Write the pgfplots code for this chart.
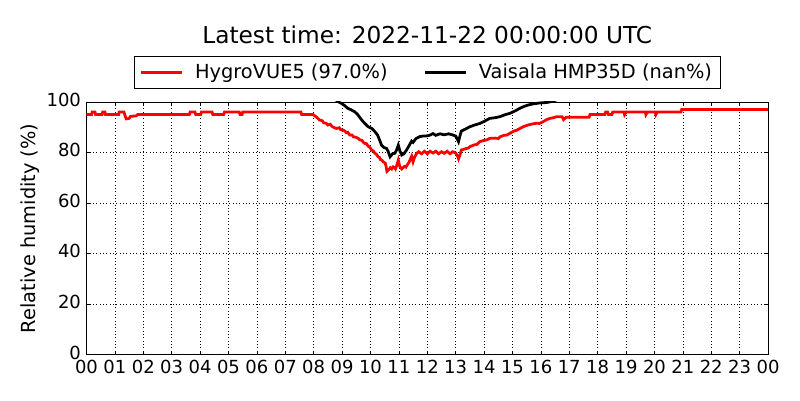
\documentclass[border=0pt]{standalone}
\usepackage{fontspec}
\setmainfont{DejaVu Sans}
\usepackage{pgfplots}
\pgfplotsset{compat=1.18}

\pgfplotstableread{
t v
0 95
0.18 95
0.2 96
0.3 96
0.32 95
0.55 95
0.57 96
0.65 96
0.67 95
1.13 95
1.15 96
1.32 96
1.36 94.5
1.4 93.3
1.5 93.5
1.55 94.3
1.75 94.5
1.8 95
3.62 95
3.65 96
3.82 96
3.85 95
4.02 95
4.05 96
4.42 96
4.45 95
4.83 95
4.86 96
5.38 96
5.41 95
5.48 95
5.5 96
7.55 96
7.58 95
7.98 95
8.1 94
8.15 93.5
8.2 92.9
8.3 92.6
8.35 91.8
8.45 91.5
8.5 90.9
8.58 91.2
8.65 90.3
8.75 89.7
8.8 89.5
8.9 89.8
8.95 89
9.03 88.9
9.1 88.5
9.15 87.8
9.2 88
9.27 86.9
9.35 86.9
9.4 86.2
9.5 86
9.57 85.6
9.62 85
9.7 84.8
9.75 84
9.8 83.6
9.86 83.5
9.92 82.5
9.98 82
10.04 81
10.1 80.6
10.15 79.8
10.22 79.2
10.27 78.3
10.32 78
10.35 77.2
10.4 77
10.45 76.3
10.52 75.8
10.55 74.5
10.58 72.5
10.63 73
10.7 74
10.75 73.5
10.8 74.3
10.85 74
10.88 73.5
10.93 75
10.98 77
11.03 74.5
11.1 73.5
11.15 74
11.2 74.5
11.25 74.2
11.29 75
11.35 76
11.39 77
11.45 78.5
11.5 76.3
11.55 78
11.62 79.6
11.7 80.3
11.8 79.5
11.9 80.5
12.0 79.5
12.1 80.5
12.2 79.8
12.3 80.5
12.4 79.5
12.5 80.3
12.6 79.7
12.7 80.5
12.8 79.5
12.9 80.3
13.0 79.8
13.07 78.5
13.1 77.5
13.15 79
13.2 81
13.35 81.5
13.45 81.8
13.5 82.3
13.65 83
13.75 83.2
13.85 84.3
14.0 84.8
14.1 85
14.2 85.6
14.4 85.7
14.5 85.5
14.56 86.2
14.7 86.8
14.8 86.9
14.91 87.6
15.05 88.5
15.15 88.8
15.26 89.5
15.4 90.3
15.55 90.9
15.7 91.3
15.85 91.6
15.95 91.5
16.08 92.2
16.2 93
16.32 93.5
16.45 93.8
16.55 94.2
16.75 94.2
16.8 93
16.85 93.5
16.9 94
17.7 94
17.73 95
18.25 95
18.28 96
18.35 96
18.38 95
18.5 95
18.53 96
18.93 96
18.95 95
19.0 96
19.68 96
19.7 95
19.75 96
20.03 96
20.05 95
20.1 96
20.93 96
20.96 97
24 97
}\redtab

\pgfplotstableread{
t v
8.7 101.5
8.88 100
9.0 99.3
9.1 98.5
9.2 97.5
9.3 97
9.45 96.1
9.55 95
9.69 92.9
9.8 91.5
9.92 90.2
10.05 89.5
10.16 88.2
10.25 86.9
10.32 85
10.39 82.9
10.47 82
10.57 81.6
10.62 80.5
10.69 78.3
10.78 79.5
10.86 79.7
10.92 81
10.98 82.9
11.04 80.5
11.1 79
11.18 79.5
11.27 81
11.35 82.5
11.45 84.5
11.5 84
11.6 85.5
11.74 86.3
11.85 86.5
12.0 86.6
12.1 86.9
12.2 87.5
12.3 86.8
12.45 87.4
12.6 87
12.75 87.4
12.91 86.9
13.0 86.5
13.05 85.5
13.1 84.3
13.15 86.5
13.2 88.5
13.35 89.3
13.5 90.2
13.65 90.8
13.85 91.5
14.0 92.3
14.2 93.5
14.4 93.8
14.56 94.2
14.75 95
14.91 95.5
15.1 96.5
15.26 97.5
15.4 98.2
15.55 98.8
15.75 99.3
15.95 99.6
16.2 99.8
16.4 100.2
16.7 101.5
}\blacktab

\begin{document}
\begin{tikzpicture}
\useasboundingbox (-62.5pt,-32.9pt) rectangle (515.6pt,256.2pt);
\begin{axis}[
  at={(0,0)}, anchor=south west,
  scale only axis, width=492.5pt, height=182.5pt,
  xmin=0, xmax=24, ymin=0, ymax=100,
  xtick={0,...,24},
  xticklabels={00,01,02,03,04,05,06,07,08,09,10,11,12,13,14,15,16,17,18,19,20,21,22,23,00},
  ytick={0,20,40,60,80,100},
  tick pos=both, xticklabel pos=lower, yticklabel pos=left,
  tick align=inside, major tick length=2.9pt,
  tick style={black, line width=0.5pt},
  grid=major, major grid style={black, dotted, line width=0.5pt},
  axis line style={black, line width=0.6pt},
  ticklabel style={font=\fontsize{13}{15}\selectfont},
  /pgf/number format/assume math mode=true,
  xticklabel style={yshift=-0.5pt},
  yticklabel style={xshift=-0.5pt, yshift=1.5pt},
  ylabel={Relative humidity (\%)},
  every axis y label/.style={at={(rel axis cs:0,0.5)}, xshift=-40.8pt, rotate=90, anchor=center, font=\fontsize{14}{16}\selectfont},
  title={Latest time: 2022-11-22 00:00:00 UTC},
  every axis title/.style={at={(rel axis cs:0.5,1)}, yshift=48.4pt, anchor=center, font=\fontsize{16.8}{19}\selectfont},
  legend columns=2,
  legend style={at={(rel axis cs:0.5,1)}, yshift=9.4pt, anchor=south, draw=black, line width=0.7pt,
    font=\fontsize{14}{16}\selectfont, inner xsep=4pt, inner ysep=3.5pt,
    /tikz/every even column/.append style={column sep=24pt}},
  legend image code/.code={\draw[#1] (0pt,0pt) -- (29.6pt,0pt); \path (36pt,0pt);},
]
\addplot[red, line width=2pt] table[x=t, y=v] {\redtab};
\addlegendentry{HygroVUE5 (97.0\%)}
\addplot[black, line width=2pt] table[x=t, y=v] {\blacktab};
\addlegendentry{Vaisala HMP35D (nan\%)}
\end{axis}
\end{tikzpicture}
\end{document}
